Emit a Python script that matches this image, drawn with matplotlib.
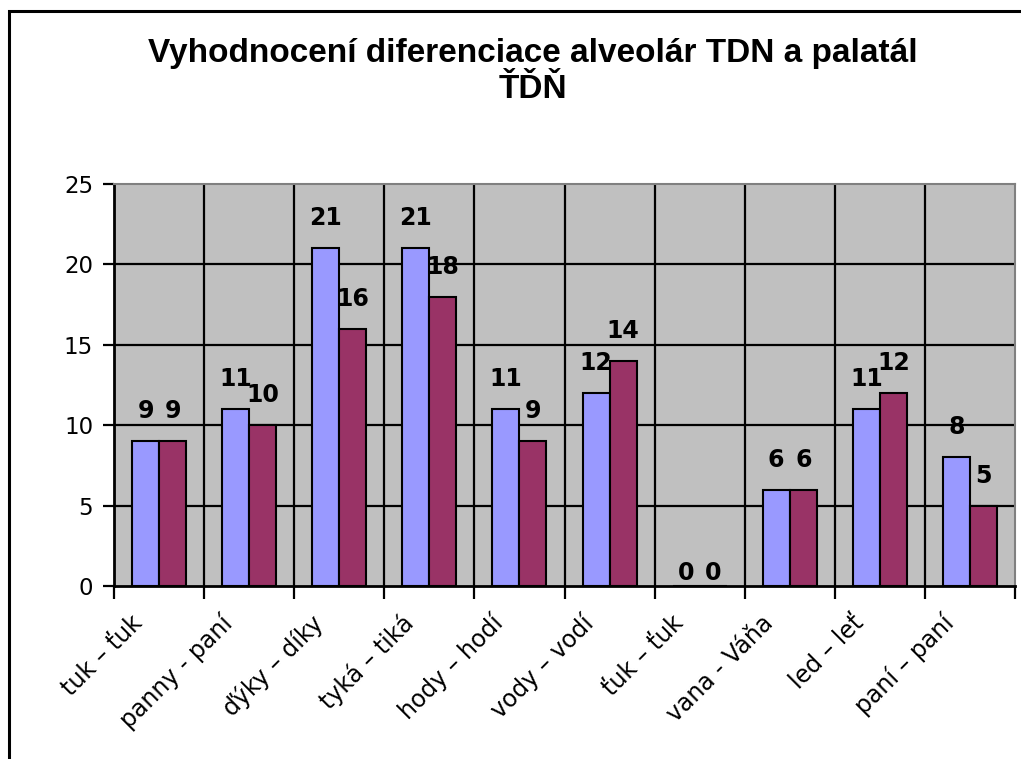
import matplotlib
matplotlib.use("Agg")
import matplotlib.pyplot as plt
import matplotlib.transforms as mtrans
import numpy as np
from matplotlib.patches import Rectangle

categories = ["tuk – ťuk", "panny - paní", "ďýky – díky", "tyká – tiká", "hody – hodí",
              "vody – vodí", "ťuk – ťuk", "vana - Váňa", "led – leť", "paní – paní"]
series1 = [9, 11, 21, 21, 11, 12, 0, 6, 11, 8]
series2 = [9, 10, 16, 18, 9, 14, 0, 6, 12, 5]
title_line1 = "Vyhodnocení diferenciace alveolár TDN a palatál"
title_line2 = "ŤĎŇ"
yticks = [0, 5, 10, 15, 20, 25]

plt.rcParams['font.family'] = ['DejaVu Sans']

W, H = 1021, 759
fig = plt.figure(figsize=(W / 100, H / 100), dpi=100)
fig.patch.set_facecolor('white')

# outer frame
fig.patches.append(Rectangle((9 / W, -0.1), 1.2, 1 - 11 / H + 0.1, transform=fig.transFigure,
                             fill=False, edgecolor='black', linewidth=2.2, clip_on=False))

ax = fig.add_axes([114 / W, 1 - 586 / H, 901 / W, 402 / H])
ax.set_facecolor('#C0C0C0')

n = len(categories)
x = np.arange(n)
bw = 0.3
b1 = ax.bar(x - bw / 2, series1, bw, color='#9999FF', edgecolor='black', linewidth=1.5, zorder=3)
b2 = ax.bar(x + bw / 2, series2, bw, color='#993366', edgecolor='black', linewidth=1.5, zorder=3)

ax.set_xlim(-0.5, n - 0.5)
ax.set_ylim(0, 25)

# grid
for yv in yticks[1:-1]:
    ax.axhline(yv, color='black', linewidth=1.6, zorder=1)
for b in np.arange(0.5, n - 0.5, 1):
    ax.axvline(b, color='black', linewidth=1.6, zorder=1)

for s in ['left', 'bottom']:
    ax.spines[s].set_color('black')
    ax.spines[s].set_linewidth(2)
for s in ['top', 'right']:
    ax.spines[s].set_color('#808080')
    ax.spines[s].set_linewidth(1.5)

ax.set_yticks(yticks)
ax.set_yticklabels([str(v) for v in yticks], fontsize=16.5)
ax.tick_params(axis='y', direction='out', length=8, width=1.6, pad=7)

ax.set_xticks(np.arange(-0.5, n, 1))
ax.set_xticklabels([])
ax.tick_params(axis='x', which='major', direction='out', length=9, width=1.6)
ax.set_xticks(x, minor=True)
ax.set_xticklabels(categories, minor=True, fontsize=17, rotation=45, ha='right',
                   va='center', rotation_mode='anchor')
ax.tick_params(axis='x', which='minor', length=0, pad=24)
off = mtrans.ScaledTranslation(-20 / 100, 0, fig.dpi_scale_trans)
for lab in ax.get_xticklabels(minor=True):
    lab.set_transform(lab.get_transform() + off)

for bars, vals in ((b1, series1), (b2, series2)):
    for rect, v in zip(bars, vals):
        cx = rect.get_x() + rect.get_width() / 2
        dy = 23 if v > 0 else 6
        ax.annotate(str(v), (cx, v), xytext=(0, dy), textcoords='offset pixels',
                    ha='center', va='baseline', fontsize=17, fontweight='bold', zorder=5)

title_font = ['Liberation Sans', 'DejaVu Sans']
fig.text(533 / W, 1 - 62 / H, title_line1, ha='center', va='baseline', fontsize=24,
         fontweight='bold', family=title_font)
fig.text(533 / W, 1 - 98 / H, title_line2, ha='center', va='baseline', fontsize=24,
         fontweight='bold', family=title_font)

fig.savefig('out.png', dpi=100)
